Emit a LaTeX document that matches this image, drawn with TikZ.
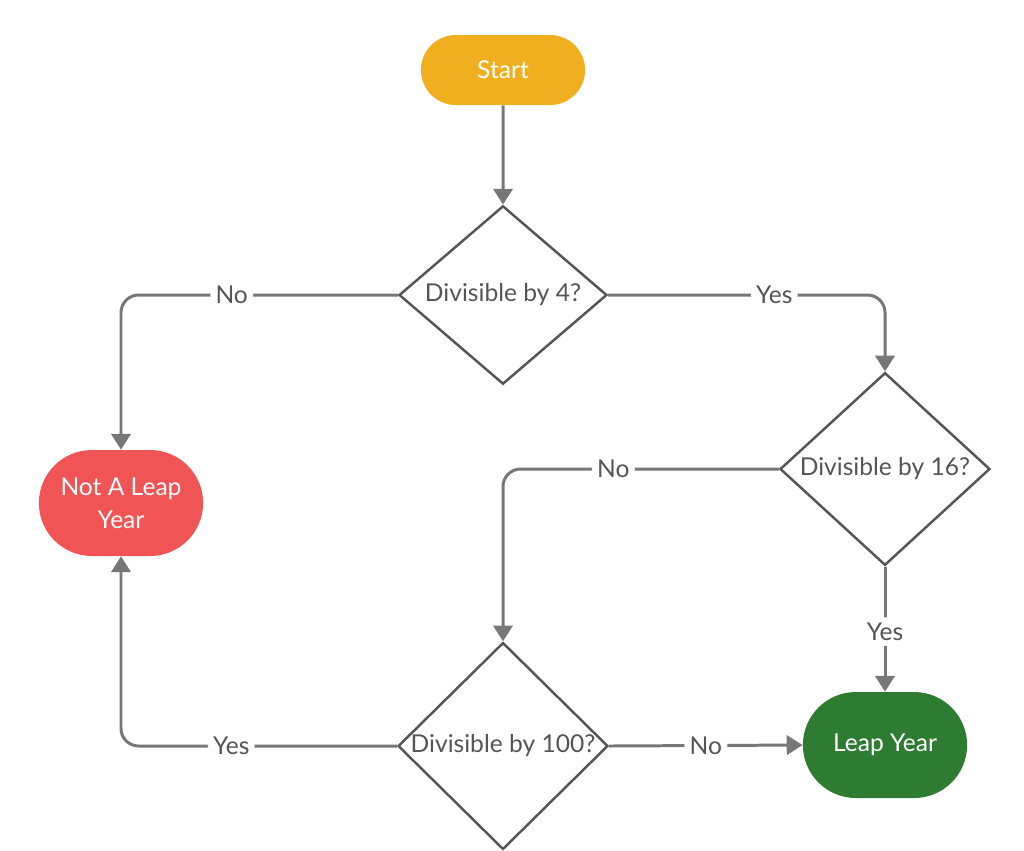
\documentclass[tikz,border=0pt]{standalone}
\usepackage{fontspec}
\setmainfont{Lato}
\usetikzlibrary{shapes.geometric,shapes.misc,arrows.meta}
\definecolor{lineGray}{HTML}{777777}
\definecolor{textGray}{HTML}{555555}
\definecolor{startOrange}{HTML}{F0AF1E}
\definecolor{noRed}{HTML}{F05454}
\definecolor{yesGreen}{HTML}{2E7B32}
\begin{document}
\begin{tikzpicture}[x=0.02cm,y=-0.02cm,font=\fontsize{14}{17}\selectfont]
\tikzstyle{terminal}=[rounded rectangle,draw=none,text=white,minimum width=3.52cm,align=center]
\tikzstyle{decision}=[diamond,draw=textGray,line width=1.4pt,fill=white,text=textGray,inner sep=0pt,minimum width=4.16cm,minimum height=2.8cm]
\tikzstyle{flow}=[draw=lineGray,line width=1.7pt,rounded corners=10pt,-{Triangle[length=9pt,width=11pt]}]
\tikzstyle{lbl}=[fill=white,text=textGray,inner sep=3pt]
\useasboundingbox (0,0) rectangle (1024,850);

\node [terminal,fill=startOrange,minimum height=1.4cm] (start) at (503,70) {Start};
\node [decision] (div4) at (503,295) {Divisible by 4?};
\node [decision,minimum width=4.2cm,minimum height=2.76cm] (div16) at (885,469) {Divisible by 16?};
\node [decision,minimum width=4.2cm,minimum height=2.76cm] (div100) at (503,746) {Divisible by 100?};
\node [terminal,fill=noRed,minimum height=2.12cm] (noleap) at (121,503) {Not A Leap\\[2pt]Year};
\node [terminal,fill=yesGreen,minimum height=2.12cm] (leap) at (885,745) {Leap Year};

\path[flow] (start) -- (div4);
\path[flow] (div4.west) -| node[lbl,pos=0.3] {No} (noleap.north);
\path[flow] (div4.east) -| node[lbl,pos=0.3] {Yes} (div16.north);
\path[flow] (div16.west) -| node[lbl,pos=0.3] {No} (div100.north);
\path[flow] (div16.south) -- node[lbl,pos=0.52] {Yes} (leap.north);
\path[flow] (div100.west) -| node[lbl,pos=0.3] {Yes} (noleap.south);
\path[flow] (div100.east) -- node[lbl,pos=0.5] {No} (leap.west);
\end{tikzpicture}
\end{document}
